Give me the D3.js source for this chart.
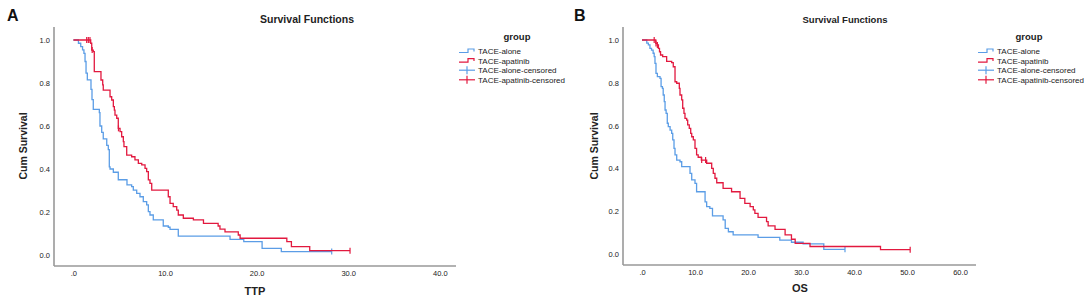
<!DOCTYPE html>
<html>
<head>
<meta charset="utf-8">
<script src="https://cdn.jsdelivr.net/npm/d3@7"></script>
<style>
  body { margin:0; background:#fff; }
  svg { display:block; font-family:"Liberation Sans", Arial, sans-serif; }
</style>
</head>
<body>
<div id="chart"></div>
<script>
// --- data ---
const groups = ["TACE-alone", "TACE-apatinib"];
const legendLabels = ["TACE-alone","TACE-apatinib","TACE-alone-censored","TACE-apatinib-censored"];

// TTP, TACE-alone (event times / survival after each step)
const ttpAloneT = [0.55,0.8,1.0,1.15,1.27,1.38,1.52,1.92,2.03,2.17,2.83,2.9,3.09,3.26,3.64,3.81,3.92,4.0,4.36,4.9,5.85,6.36,6.54,6.91,7.27,7.63,8.0,8.18,8.36,8.72,9.81,10.36,10.55,11.45,17.1,18.6,20.6,22.7];
const ttpAloneS = [.985,.969,.954,.938,.90,.846,.815,.77,.723,.677,.662,.60,.57,.54,.51,.49,.41,.40,.385,.35,.326,.318,.302,.287,.271,.248,.233,.202,.186,.163,.135,.129,.119,.088,.073,.062,.031,.016];
const ttpAloneEnd = 28.2;
const ttpAloneCens = [28.2];

// TTP, TACE-apatinib
const ttpApaT = [1.89,2.0,2.17,2.28,3.01,3.2,3.26,4.0,4.18,4.36,4.47,4.54,4.73,4.9,5.09,5.27,5.45,5.52,5.82,6.36,6.72,7.09,7.46,7.82,8.0,8.18,8.36,8.55,10.36,10.55,10.9,11.28,11.45,12.0,13.1,14.2,15.8,16.0,16.55,18.0,18.2,23.3,23.8,25.8];
const ttpApaS = [.985,.953,.946,.853,.814,.791,.767,.736,.721,.690,.674,.651,.636,.589,.574,.550,.527,.504,.465,.457,.442,.426,.419,.403,.388,.349,.333,.302,.271,.240,.225,.209,.186,.171,.163,.147,.135,.120,.108,.093,.078,.062,.039,.020];
const ttpApaEnd = 30.2;
const ttpApaCens = [1.45,1.63,1.81,2.05,4.92,30.2];

// OS, TACE-alone
const osAloneT = [0.9,1.2,1.5,1.8,2.1,2.3,2.45,2.64,2.9,3.4,3.6,3.85,4.0,4.2,4.35,4.55,4.77,4.96,5.3,5.6,5.8,6.04,6.23,6.55,7.17,7.49,9.06,9.38,10.0,10.3,11.9,12.2,12.8,13.3,15.3,15.7,16.3,17.2,21.9,26.0,28.2,30.4,34.3];
const osAloneS = [.985,.977,.961,.953,.938,.922,.891,.844,.829,.821,.782,.774,.743,.712,.673,.657,.611,.595,.579,.564,.533,.494,.463,.439,.431,.408,.377,.346,.330,.291,.244,.221,.213,.178,.159,.120,.104,.089,.078,.065,.055,.047,.022];
const osAloneEnd = 38.3;
const osAloneCens = [38.3];

// OS, TACE-apatinib
const osApaT = [2.6,2.9,3.1,3.3,3.5,3.9,4.65,5.6,5.9,6.23,6.55,7.04,7.17,7.49,7.68,7.92,8.11,8.43,8.62,8.92,9.19,9.38,9.68,10.0,10.3,10.6,11.2,12.2,13.15,13.45,13.77,14.1,15.3,16.9,18.5,19.4,20.4,21.0,21.3,21.9,23.5,23.8,25.1,27.0,28.2,28.9,31.7,45.0];
const osApaS = [.984,.977,.961,.945,.930,.922,.90,.894,.875,.805,.798,.774,.743,.72,.681,.657,.634,.626,.603,.587,.564,.548,.533,.494,.463,.452,.439,.424,.40,.377,.354,.333,.307,.291,.26,.237,.221,.206,.19,.171,.151,.131,.115,.089,.069,.05,.035,.02];
const osApaEnd = 50.6;
const osApaCens = [2.3,2.64,2.9,11.26,12.0,50.6];

const ttpTicks = [0,10,20,30,40];
const osTicks = [0,10,20,30,40,50,60];
const survTicks = [0,0.2,0.4,0.6,0.8,1.0];

const colors = {alone:"#5b9de6", apa:"#e2193f"};

const width = 1084, height = 299;
const svg = d3.select("#chart").append("svg").attr("width",width).attr("height",height);

function curvePoints(ts, ss, end) {
  const pts = [[0,1]];
  ts.forEach((t,i) => pts.push([t, ss[i]]));
  pts.push([end, ss[ss.length-1]]);
  return pts;
}
function survAt(ts, ss, t) {
  let s = 1;
  ts.forEach((tt,i) => { if (tt <= t) s = ss[i]; });
  return s;
}

function drawPanel(p) {
  const g = svg.append("g");
  const x = d3.scaleLinear().domain(p.xDomain).range(p.xRange);
  const y = d3.scaleLinear().domain([0,1]).range(p.yRange);

  // panel letter + title
  g.append("text").attr("x",p.letterX).attr("y",21)
    .attr("font-size",16).attr("font-weight","bold").attr("fill","#111").text(p.letter);
  g.append("text").attr("x",p.titleX).attr("y",23).attr("text-anchor","middle")
    .attr("font-size",p.titleSize).attr("font-weight","bold").attr("fill","#222").text("Survival Functions");

  // axis lines
  g.append("line").attr("x1",p.axX).attr("x2",p.axX).attr("y1",27).attr("y2",p.axY)
    .attr("stroke","#999").attr("stroke-width",1.6);
  g.append("line").attr("x1",p.axX).attr("x2",p.axEnd).attr("y1",p.axY).attr("y2",p.axY)
    .attr("stroke","#999").attr("stroke-width",1.6);

  const xa = g.append("g").attr("transform",`translate(0,${p.axY})`)
    .call(d3.axisBottom(x).tickValues(p.xTicks).tickSize(0).tickPadding(5)
      .tickFormat(d => d === 0 ? ".0" : d3.format(".1f")(d)));
  const ya = g.append("g").attr("transform",`translate(${p.axX},0)`)
    .call(d3.axisLeft(y).tickValues(survTicks).tickSize(0).tickPadding(4).tickFormat(d3.format(".1f")));
  [xa, ya].forEach(a => {
    a.select(".domain").remove();
    a.selectAll("text").attr("font-size",7.5).attr("fill","#222")
      .attr("font-family","'Liberation Sans', Arial, sans-serif");
  });

  // axis titles
  g.append("text").attr("x",p.xTitleX).attr("y",p.xTitleY).attr("text-anchor","middle")
    .attr("font-size",11).attr("font-weight","bold").attr("fill","#222").text(p.xTitle);
  g.append("text").attr("transform",`translate(${p.yTitleX},146) rotate(-90)`)
    .attr("text-anchor","middle").attr("font-size",10.5).attr("font-weight","bold")
    .attr("fill","#222").text("Cum Survival");

  // curves
  const line = d3.line().x(d => x(d[0])).y(d => y(d[1])).curve(d3.curveStepAfter);
  p.series.forEach(s => {
    g.append("path").datum(curvePoints(s.t, s.s, s.end))
      .attr("fill","none").attr("stroke",s.color).attr("stroke-width",1.3).attr("d",line);
    g.selectAll(null).data(s.cens).join("line")
      .attr("x1",d => x(d)).attr("x2",d => x(d))
      .attr("y1",d => y(survAt(s.t,s.s,d)) - 3).attr("y2",d => y(survAt(s.t,s.s,d)) + 3)
      .attr("stroke",s.color).attr("stroke-width",1.2);
  });

  // legend
  const lg = g.append("g").attr("transform",`translate(${p.legX},0)`);
  lg.append("text").attr("x",p.legGroupX).attr("y",40).attr("text-anchor","middle")
    .attr("font-size",9.5).attr("font-weight","bold").attr("fill","#222").text("group");
  legendLabels.forEach((lab,i) => {
    const yy = 51 + i*9.6;
    const c = i % 2 === 0 ? colors.alone : colors.apa;
    if (i < 2) {
      lg.append("path").attr("d",`M0,${yy+1.5}H9V${yy-2}H15V${yy+0.5}`)
        .attr("fill","none").attr("stroke",c).attr("stroke-width",1.2);
    } else {
      lg.append("line").attr("x1",0).attr("x2",16).attr("y1",yy).attr("y2",yy)
        .attr("stroke",c).attr("stroke-width",1.2);
      lg.append("line").attr("x1",8).attr("x2",8).attr("y1",yy-4).attr("y2",yy+4)
        .attr("stroke",c).attr("stroke-width",1.2);
    }
    lg.append("text").attr("x",19).attr("y",yy+3).attr("font-size",8).attr("fill","#222").text(lab);
  });
}

drawPanel({
  letter:"A", letterX:7, titleX:307, titleSize:10.5,
  xDomain:[0,40], xRange:[73.4,439.8], yRange:[255,40], xTicks:ttpTicks,
  axX:54, axY:266, axEnd:456, xTitle:"TTP", xTitleX:255, xTitleY:295, yTitleX:27,
  legX:459, legGroupX:58,
  series:[
    {t:ttpAloneT, s:ttpAloneS, end:ttpAloneEnd, cens:ttpAloneCens, color:colors.alone},
    {t:ttpApaT, s:ttpApaS, end:ttpApaEnd, cens:ttpApaCens, color:colors.apa}
  ]
});
drawPanel({
  letter:"B", letterX:574, titleX:845, titleSize:9.5,
  xDomain:[0,60], xRange:[642,960], yRange:[254,40], xTicks:osTicks,
  axX:623, axY:265, axEnd:976, xTitle:"OS", xTitleX:800, xTitleY:292, yTitleX:598,
  legX:978, legGroupX:51,
  series:[
    {t:osAloneT, s:osAloneS, end:osAloneEnd, cens:osAloneCens, color:colors.alone},
    {t:osApaT, s:osApaS, end:osApaEnd, cens:osApaCens, color:colors.apa}
  ]
});
</script>
</body>
</html>
